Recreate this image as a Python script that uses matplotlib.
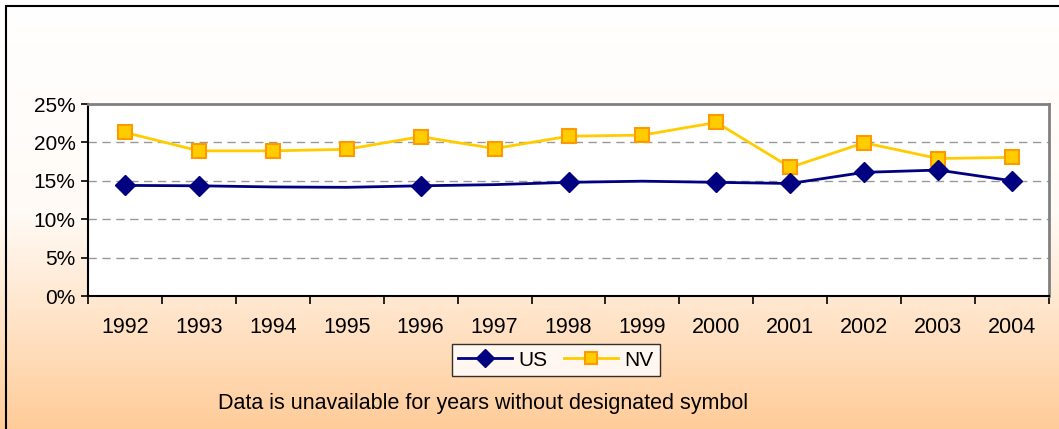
import numpy as np
import matplotlib.pyplot as plt
from matplotlib.lines import Line2D
from matplotlib.patches import Rectangle
from matplotlib.colors import LinearSegmentedColormap

plt.rcParams['font.family'] = ['Liberation Sans', 'DejaVu Sans']

years = ['1992', '1993', '1994', '1995', '1996', '1997', '1998',
         '1999', '2000', '2001', '2002', '2003', '2004']
us = [14.4, 14.35, 14.2, 14.15, 14.35, 14.5, 14.8, 14.95, 14.8, 14.65, 16.1, 16.4, 15.0]
nv = [21.3, 18.9, 18.9, 19.1, 20.75, 19.2, 20.8, 20.95, 22.6, 16.75, 19.95, 17.9, 18.05]
us_known = [0, 1, 4, 6, 8, 9, 10, 11, 12]  # years that have a US symbol

fig = plt.figure(figsize=(10.59, 4.29), dpi=100)

# gradient background
bg = fig.add_axes([0, 0, 1, 1], zorder=-10)
cmap = LinearSegmentedColormap.from_list('peach', ['#FFFFFF', '#FFFAF5', '#FFCC99'])
grad = np.linspace(0, 1, 256).reshape(-1, 1)
bg.imshow(grad, aspect='auto', cmap=cmap, extent=[0, 1, 0, 1], origin='upper')
bg.add_patch(Rectangle((6 / 1059, -0.05), 1.2, 1 - 6 / 429 + 0.05, fill=False,
                       edgecolor='black', linewidth=1.5, transform=bg.transAxes))
bg.set_xlim(0, 1)
bg.set_ylim(0, 1)
bg.axis('off')

ax = fig.add_axes([88 / 1059, 1 - 296 / 429, (1049 - 88) / 1059, (296 - 104) / 429])
ax.set_facecolor('white')
x = np.arange(len(years))

ax.plot(x, nv, color='#FFCC00', linewidth=2, marker='s', markersize=10,
        markerfacecolor='#FFCC00', markeredgecolor='#FF9900', markeredgewidth=1.5,
        zorder=3)
ax.plot(x, us, color='#000080', linewidth=2, marker='D', markersize=10,
        markerfacecolor='#000080', markeredgecolor='#000080', markevery=us_known,
        zorder=4)

ax.set_xlim(-0.5, len(years) - 0.5)
ax.set_ylim(0, 25)
ax.set_yticks([0, 5, 10, 15, 20, 25])
ax.set_yticklabels(['0%', '5%', '10%', '15%', '20%', '25%'], fontsize=15)
ax.set_xticks(x)
ax.set_xticklabels(years, fontsize=15.5)
ax.set_xticks(np.arange(-0.5, len(years)), minor=True)
ax.tick_params(axis='x', which='major', length=0, pad=15)
ax.tick_params(axis='x', which='minor', length=6, width=1.2, direction='out')
ax.tick_params(axis='y', length=5, width=1.2, direction='out', pad=4)

for y in [5, 10, 15, 20]:
    ax.axhline(y, color='#999999', linestyle=(0, (6, 4)), linewidth=1, zorder=1)

for s in ['left', 'bottom']:
    ax.spines[s].set_color('black')
    ax.spines[s].set_linewidth(1.5)
for s in ['top', 'right']:
    ax.spines[s].set_color('#808080')
    ax.spines[s].set_linewidth(2)

handles = [
    Line2D([], [], color='#000080', linewidth=2, marker='D', markersize=9,
           markerfacecolor='#000080'),
    Line2D([], [], color='#FFCC00', linewidth=2, marker='s', markersize=9,
           markerfacecolor='#FFCC00', markeredgecolor='#FF9900', markeredgewidth=1.5),
]
leg = fig.legend(handles, ['US', 'NV'], loc='center', bbox_to_anchor=(556 / 1059, 1 - 360 / 429),
                 ncol=2, fontsize=15, frameon=True, fancybox=False, handlelength=2.6,
                 handletextpad=0.3, columnspacing=0.8, borderpad=0.3)
leg.get_frame().set_edgecolor('black')
leg.get_frame().set_linewidth(1)

fig.text(483 / 1059, 1 - 403 / 429, 'Data is unavailable for years without designated symbol',
         ha='center', va='center', fontsize=15.5)

fig.savefig('out.png', dpi=100)
